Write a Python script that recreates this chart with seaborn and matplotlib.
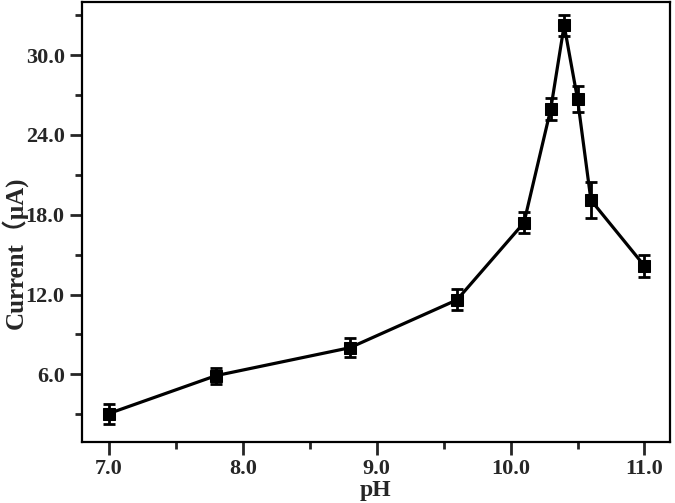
import numpy as np
import pandas as pd
import seaborn as sns
from matplotlib import pyplot as plt
from matplotlib.ticker import MultipleLocator, FormatStrFormatter

# pHごとの電流値（µA）と誤差
ph = [7.0, 7.8, 8.8, 9.6, 10.1, 10.3, 10.4, 10.5, 10.6, 11.0]
current = [3.05, 5.9, 8.0, 11.6, 17.4, 25.95, 32.25, 26.7, 19.1, 14.15]
error = [0.75, 0.6, 0.7, 0.8, 0.8, 0.85, 0.8, 1.0, 1.35, 0.8]

df = pd.DataFrame({"pH": ph, "Current": current, "err": error})

sns.set_style("ticks")
plt.rcParams["font.family"] = ["Liberation Serif", "Noto Sans CJK SC", "DejaVu Serif"]
plt.rcParams["font.weight"] = "bold"

fig = plt.figure(figsize=(6.75, 5.03), dpi=100)
ax = fig.add_axes([0.1215, 0.121, 0.871, 0.875])

# 誤差棒
ax.errorbar(df["pH"], df["Current"], yerr=df["err"], fmt="none",
            ecolor="black", elinewidth=2, capsize=4.5, capthick=2, zorder=2)
# 折れ線とマーカー
sns.lineplot(data=df, x="pH", y="Current", ax=ax, color="black",
             linewidth=2.3, marker="s", markersize=8.5, markeredgecolor="black",
             zorder=3)

ax.set_xlim(6.8, 11.19)
ax.set_ylim(0.9, 34.0)
ax.xaxis.set_major_locator(MultipleLocator(1.0))
ax.xaxis.set_minor_locator(MultipleLocator(0.5))
ax.yaxis.set_major_locator(MultipleLocator(6.0))
ax.yaxis.set_minor_locator(MultipleLocator(3.0))
ax.xaxis.set_major_formatter(FormatStrFormatter("%.1f"))
ax.yaxis.set_major_formatter(FormatStrFormatter("%.1f"))

ax.tick_params(which="major", direction="out", length=9, width=2,
               labelsize=16, top=False, right=False)
ax.tick_params(which="minor", direction="out", length=5, width=2,
               top=False, right=False)
for lab in ax.get_xticklabels() + ax.get_yticklabels():
    lab.set_fontweight("bold")

for s in ax.spines.values():
    s.set_visible(True)
    s.set_linewidth(1.6)
    s.set_color("black")

ax.set_xlabel("pH", fontsize=17, fontweight="bold")
ax.xaxis.set_label_coords(0.5, -0.085)
ax.set_ylabel("Current（μA)", fontsize=18, fontweight="bold")
ax.yaxis.set_label_coords(-0.093, 0.43)

fig.savefig("out.png", dpi=100)
